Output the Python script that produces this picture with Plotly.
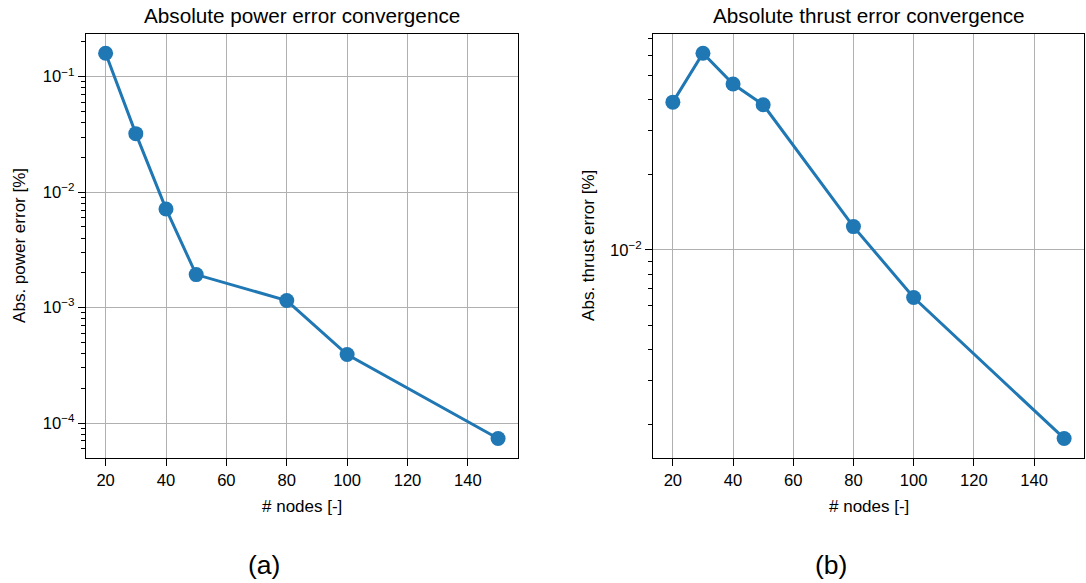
import numpy as np
import plotly.graph_objects as go
from plotly.subplots import make_subplots

# Mesh convergence study: number of nodes vs absolute error
nodes = [20, 30, 40, 50, 80, 100, 150]
power_error = [0.1595, 0.0321, 0.00715, 0.00193, 0.00115, 0.000392, 0.0000735]
thrust_error = [0.0390, 0.0612, 0.0461, 0.0381, 0.01239, 0.00645, 0.00176]

x_ticks = [20, 40, 60, 80, 100, 120, 140]
power_major = [1e-1, 1e-2, 1e-3, 1e-4]
power_major_text = ["10<sup>−1</sup>", "10<sup>−2</sup>", "10<sup>−3</sup>", "10<sup>−4</sup>"]
thrust_major = [1e-2]
thrust_major_text = ["10<sup>−2</sup>"]

titles = ["Absolute power error convergence", "Absolute thrust error convergence"]
y_labels = ["Abs. power error [%]", "Abs. thrust error [%]"]
x_label = "# nodes [-]"
panel_tags = ["(a)", "(b)"]

BLUE = "#1f77b4"
FONT = "Liberation Sans, Arial, sans-serif"
W, H = 1086, 583


def padded_range(vals, log=False):
    v = np.log10(vals) if log else np.asarray(vals, dtype=float)
    lo, hi = float(v.min()), float(v.max())
    pad = 0.05 * (hi - lo)
    return [lo - pad, hi + pad]


def minor_log_ticks(rng):
    lo, hi = 10 ** rng[0], 10 ** rng[1]
    out = []
    for d in range(int(np.floor(rng[0])) - 1, int(np.ceil(rng[1])) + 1):
        for m in range(2, 10):
            v = m * 10.0 ** d
            if lo <= v <= hi:
                out.append(v)
    return out


# Plot-area geometry in pixels
left_px = [(86, 517.7), (653.3, 1083.7)]
top_px, bottom_px = 34, 457.7

fig = make_subplots(rows=1, cols=2)

for i, (ys, majors, major_text) in enumerate(
    [(power_error, power_major, power_major_text), (thrust_error, thrust_major, thrust_major_text)]
):
    col = i + 1
    fig.add_trace(
        go.Scatter(
            x=nodes, y=ys, mode="lines+markers",
            line=dict(color=BLUE, width=3),
            marker=dict(color=BLUE, size=15),
            showlegend=False,
        ),
        row=1, col=col,
    )
    yr = padded_range(ys, log=True)
    xr = padded_range(nodes)
    x0, x1 = left_px[i]
    fig.update_xaxes(
        row=1, col=col,
        domain=[x0 / W, x1 / W],
        range=xr,
        tickvals=x_ticks,
        ticks="outside", ticklen=7, tickwidth=1.3, tickcolor="black",
        showline=True, mirror=True, linecolor="black", linewidth=1.3,
        showgrid=True, gridcolor="#b0b0b0", gridwidth=1.4,
        zeroline=False,
        tickfont=dict(family=FONT, size=16.6, color="black"),
    )
    fig.update_yaxes(
        row=1, col=col,
        type="log",
        domain=[1 - bottom_px / H, 1 - top_px / H],
        range=yr,
        tickvals=majors, ticktext=major_text,
        ticks="outside", ticklen=7, tickwidth=1.3, tickcolor="black",
        minor=dict(
            tickvals=minor_log_ticks(yr), ticks="outside", ticklen=4,
            tickwidth=1, tickcolor="black", showgrid=False,
        ),
        showline=True, mirror=True, linecolor="black", linewidth=1.3,
        showgrid=True, gridcolor="#b0b0b0", gridwidth=1.4,
        zeroline=False,
        tickfont=dict(family=FONT, size=16.6, color="black"),
    )

    cx = (x0 + x1) / 2 / W
    # Title above each panel
    fig.add_annotation(
        text=titles[i], x=cx, y=1 - 15 / H, xref="paper", yref="paper",
        showarrow=False, xanchor="center", yanchor="middle",
        font=dict(family=FONT, size=20.7, color="black"),
    )
    # x-axis label
    fig.add_annotation(
        text=x_label, x=cx, y=1 - 506.5 / H, xref="paper", yref="paper",
        showarrow=False, xanchor="center", yanchor="middle",
        font=dict(family=FONT, size=17, color="black"),
    )
    # y-axis label
    fig.add_annotation(
        text=y_labels[i], x=[20, 589][i] / W, y=1 - 245.9 / H,
        xref="paper", yref="paper", textangle=-90,
        showarrow=False, xanchor="center", yanchor="middle",
        font=dict(family=FONT, size=17, color="black"),
    )
    # panel tag
    fig.add_annotation(
        text=panel_tags[i], x=[264, 830.7][i] / W, y=1 - 565 / H,
        xref="paper", yref="paper",
        showarrow=False, xanchor="center", yanchor="middle",
        font=dict(family=FONT, size=26.5, color="black"),
    )

fig.update_layout(
    width=W, height=H,
    margin=dict(l=0, r=0, t=0, b=0),
    paper_bgcolor="white", plot_bgcolor="white",
)

fig.write_html("out.html")
